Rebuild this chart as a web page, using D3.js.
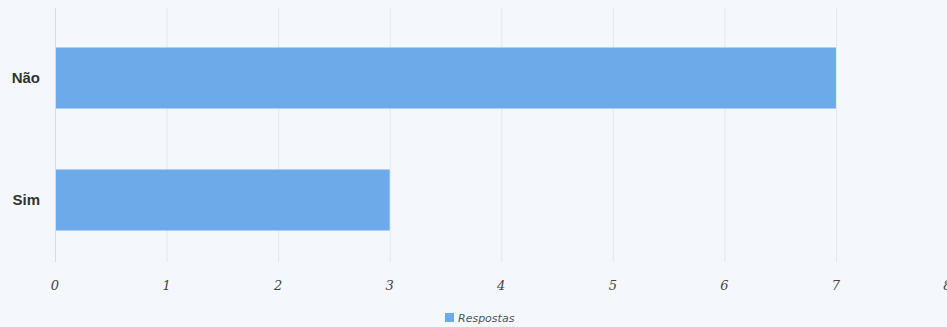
<!DOCTYPE html>
<html>
<head>
<meta charset="utf-8">
<script src="https://cdn.jsdelivr.net/npm/d3@7"></script>
<style>
  body { margin: 0; background: #f4f8fc; }
  svg { display: block; }
</style>
</head>
<body>
<div class="chart"></div>
<script>
// chart data
var categories = ["Não", "Sim"];
var respostas = [7, 3];
var xTicks = [0, 1, 2, 3, 4, 5, 6, 7, 8];
var seriesName = "Respostas";

var svgWidth = 947;
var svgHeight = 327;

var svg = d3.select(".chart")
  .append("svg")
  .attr("width", svgWidth)
  .attr("height", svgHeight);

svg.append("rect")
  .attr("width", svgWidth)
  .attr("height", svgHeight)
  .attr("fill", "#f4f8fc");

// scales
var xScale = d3.scaleLinear()
  .domain([0, 8])
  .range([55, 947.5]);

var yScale = d3.scaleBand()
  .domain(categories)
  .range([17, 261])
  .paddingInner(0.5)
  .paddingOuter(0.25);

// grid lines
svg.append("g")
  .selectAll("line")
  .data(xTicks)
  .enter()
  .append("line")
  .attr("x1", d => xScale(d) + 0.5)
  .attr("x2", d => xScale(d) + 0.5)
  .attr("y1", 8)
  .attr("y2", 262)
  .attr("stroke", d => d === 0 ? "#d8dde3" : "#e4e8ed")
  .attr("stroke-width", 1);

// bars
var data = categories.map((c, i) => ({ cat: c, value: respostas[i] }));

svg.append("g")
  .selectAll("rect")
  .data(data)
  .enter()
  .append("rect")
  .attr("x", xScale(0) + 1)
  .attr("y", d => yScale(d.cat))
  .attr("width", d => xScale(d.value) - xScale(0) - 1)
  .attr("height", yScale.bandwidth())
  .attr("fill", "#6caae9");

// category labels
svg.append("g")
  .selectAll("text")
  .data(categories)
  .enter()
  .append("text")
  .attr("x", 40)
  .attr("y", d => yScale(d) + yScale.bandwidth() / 2)
  .attr("dy", "0.35em")
  .attr("text-anchor", "end")
  .attr("font-family", "Liberation Sans, Arial, sans-serif")
  .attr("font-weight", "bold")
  .attr("font-size", 15)
  .attr("fill", "#333")
  .text(d => d);

// x tick labels
svg.append("g")
  .selectAll("text")
  .data(xTicks)
  .enter()
  .append("text")
  .attr("x", d => xScale(d))
  .attr("y", 290)
  .attr("text-anchor", "middle")
  .attr("font-family", "DejaVu Serif, serif")
  .attr("font-style", "italic")
  .attr("font-size", 13)
  .attr("fill", "#444")
  .text(d => d);

// legend
var legend = svg.append("g")
  .attr("transform", "translate(445, 313)");

legend.append("rect")
  .attr("width", 9)
  .attr("height", 9)
  .attr("fill", "#6caae9");

legend.append("text")
  .attr("x", 13)
  .attr("y", 8.5)
  .attr("font-family", "DejaVu Sans, sans-serif")
  .attr("font-style", "italic")
  .attr("font-size", 11)
  .attr("fill", "#555")
  .text(seriesName);
</script>
</body>
</html>
